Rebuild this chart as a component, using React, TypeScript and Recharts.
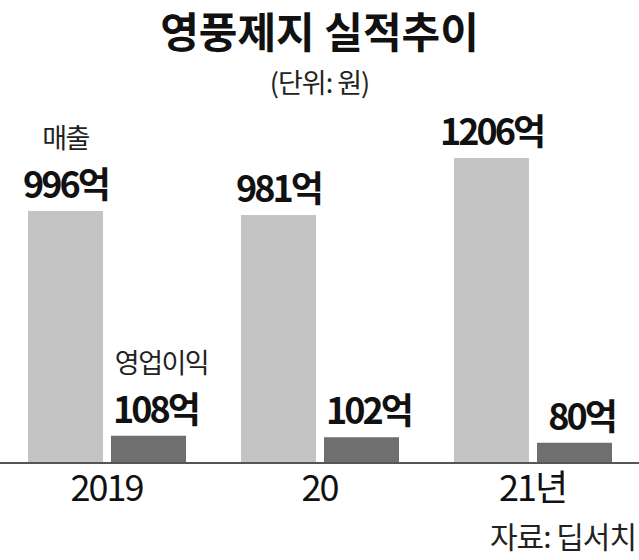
import { BarChart, Bar, XAxis, YAxis, LabelList } from "recharts";

const years = ["2019", "20", "21년"];
const sales = [996, 981, 1206];
const opProfit = [108, 102, 80];
const seriesNames = ["매출", "영업이익"];

const chartData = years.map((year, i) => ({
  year,
  sales: sales[i],
  opProfit: opProfit[i],
}));

const FONT = "'Noto Sans CJK KR', 'Noto Sans', sans-serif";

const makeLabel = (seriesName: string, dx: number) => (props: any) => {
  const { x, y, width, value, index } = props;
  const cx = Number(x) + Number(width) / 2 + dx;
  const top = Number(y) - 13;
  return (
    <g>
      <text
        x={cx}
        y={top}
        textAnchor="middle"
        fontFamily={FONT}
        fontWeight={700}
        fontSize={36}
        letterSpacing={-3}
        fill="#111"
      >
        {value}억
      </text>
      {index === 0 && (
        <text
          x={cx + (dx > 0 ? 6 : 0)}
          y={top - 50}
          textAnchor="middle"
          fontFamily={FONT}
          fontSize={27}
          letterSpacing={-1.5}
          fill="#222"
        >
          {seriesName}
        </text>
      )}
    </g>
  );
};

export default function App() {
  return (
    <div
      style={{
        position: "absolute",
        left: 0,
        top: 0,
        width: 639,
        height: 560,
        background: "#fff",
        fontFamily: FONT,
      }}
    >
      <div
        style={{
          position: "absolute",
          top: 9,
          width: 639,
          textAlign: "center",
          fontSize: 42,
          lineHeight: 1,
          fontWeight: 700,
          color: "#111",
          letterSpacing: 0,
        }}
      >
        영풍제지 실적추이
      </div>
      <div
        style={{
          position: "absolute",
          top: 68,
          width: 639,
          textAlign: "center",
          fontSize: 27,
          lineHeight: 1,
          color: "#222",
          letterSpacing: -1,
        }}
      >
        (단위: 원)
      </div>
      <BarChart
        width={639}
        height={560}
        data={chartData}
        margin={{ top: 158, right: 0, bottom: 37, left: 0 }}
        barCategoryGap={27}
        barGap={8}
      >
        <XAxis
          dataKey="year"
          height={60}
          tickLine={false}
          axisLine={{ stroke: "#555", strokeWidth: 2 }}
          tick={{
            fill: "#111",
            fontSize: 36,
            fontFamily: FONT,
            letterSpacing: -2,
          }}
          tickMargin={6}
        />
        <YAxis hide domain={[0, 1206]} />
        <Bar dataKey="sales" fill="#c4c4c4" barSize={75} isAnimationActive={false}>
          <LabelList dataKey="sales" content={makeLabel(seriesNames[0], 0)} />
        </Bar>
        <Bar dataKey="opProfit" fill="#6f6f6f" barSize={75} isAnimationActive={false}>
          <LabelList dataKey="opProfit" content={makeLabel(seriesNames[1], 7)} />
        </Bar>
      </BarChart>
      <div
        style={{
          position: "absolute",
          right: 3,
          top: 520,
          fontSize: 30,
          lineHeight: 1,
          color: "#222",
          letterSpacing: -1,
        }}
      >
        자료: 딥서치
      </div>
    </div>
  );
}
